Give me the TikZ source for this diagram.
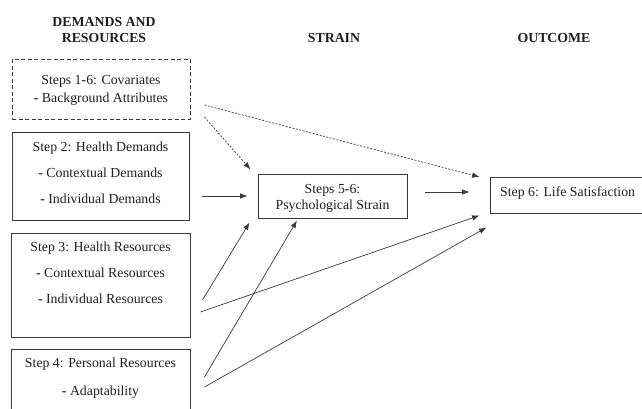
\documentclass[tikz,border=0pt]{standalone}
\usepackage{fontspec}
\setmainfont{Liberation Serif}
\usepackage{tikz}
\usetikzlibrary{arrows.meta,positioning}
\definecolor{linegray}{HTML}{3A3A3A}
\definecolor{textgray}{HTML}{1E1E1E}

\begin{document}
\begin{tikzpicture}[
  x=1pt,y=-1pt,
  font=\fontsize{13.8}{15.5}\selectfont,
  box/.style={draw=linegray,line width=0.9pt,inner sep=0pt},
  covbox/.style={box,dash pattern=on 4pt off 2.5pt},
  txt/.style={text=textgray,align=center,inner sep=0pt,anchor=base},
  head/.style={txt,font=\fontsize{13.8}{16}\selectfont\bfseries},
  arr/.style={-{Latex[length=7.5pt,width=5.5pt]},draw=linegray,line width=0.7pt},
  darr/.style={arr,dash pattern=on 2pt off 1.5pt}
]
\useasboundingbox (0,0) rectangle (642,408);

% column headings (base = last line)
\node[head] (hdr) at (104,42) {DEMANDS AND\\RESOURCES};
\node[head] (hstrain) at (334,42) {STRAIN};
\node[head] (hout) at (554,42) {OUTCOME};

% boxes
\node[covbox,minimum width=178pt,minimum height=60pt] (cov) at (101,89) {};
\node[box,minimum width=177pt,minimum height=88pt] (hd) at (100.5,176) {};
\node[box,minimum width=179pt,minimum height=104pt] (hr) at (100.5,285) {};
\node[box,minimum width=179pt,minimum height=80pt] (pr) at (100.5,389) {};
\node[box,minimum width=149pt,minimum height=44pt] (ps) at (332.5,196) {};
\node[box,minimum width=170pt,minimum height=36pt] (ls) at (575,195) {};

% box texts
\node[txt] (covtxt) at (101,102.5) {Steps 1\textbf{-}6: Covariates\\[2.5pt]\textbf{-} Background Attributes};
\node[txt] (hdtxt) at (100.5,203.5) {Step 2: Health Demands\\[10.5pt]\textbf{-} Contextual Demands\\[10.5pt]\textbf{-} Individual Demands};
\node[txt] (hrtxt) at (100.5,303.5) {Step 3: Health Resources\\[10.5pt]\textbf{-} Contextual Resources\\[10.5pt]\textbf{-} Individual Resources};
\node[txt] (prtxt) at (100.5,395) {Step 4: Personal Resources\\[12pt]\textbf{-} Adaptability};
\node[txt] (pstxt) at (332.5,209) {Steps 5\textbf{-}6:\\Psychological Strain};
\node[txt,anchor=base west] (lstxt) at (500,196.5) {Step 6: Life Satisfaction};

% paths
\draw[darr] ([shift={(14,28)}]cov.east) -- ([shift={(-7,-4)}]ps.north west);
\draw[darr] ([shift={(14,16)}]cov.east) -- ([shift={(-10,-18)}]ls.west);
\draw[arr] ([shift={(13,20)}]hd.east) -- ([shift={(-10,0)}]ps.west);
\draw[arr] ([shift={(18,-4)}]ps.east) -- ([shift={(-20,-3)}]ls.west);
\draw[arr] ([shift={(12,15)}]hr.east) -- ([shift={(-8,4)}]ps.south west);
\draw[arr] ([shift={(14,-12)}]pr.east) -- ([shift={(-35.5,2)}]ps.south);
\draw[arr] ([shift={(10,27)}]hr.east) -- ([shift={(-10,2)}]ls.south west);
\draw[arr] ([shift={(14,-2)}]pr.east) -- ([shift={(-3,14)}]ls.south west);
\end{tikzpicture}
\end{document}
